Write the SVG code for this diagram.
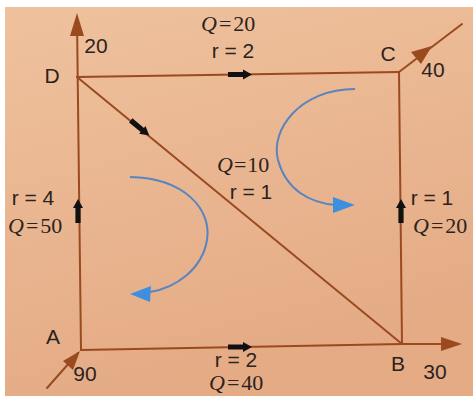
<svg xmlns="http://www.w3.org/2000/svg" width="473" height="396" viewBox="0 0 473 396">
<style>
.edge{stroke:#9b4a1f;stroke-width:2;fill:none;stroke-linecap:round}
.lbl{font-family:"Liberation Sans",Arial,sans-serif;font-size:21px;fill:#2b2320}
.q{font-family:"Liberation Serif","Times New Roman",serif;font-size:22px;fill:#2b2320}
.qi{font-style:italic}
.loop{stroke:#5a84bf;stroke-width:2;fill:none}
.flow{fill:#111}
.head{fill:#9b4a1f}
.bhead{fill:#3f8fe0}
</style>
<defs>
<linearGradient id="bg" x1="0" y1="0" x2="0.3" y2="1">
<stop offset="0" stop-color="#efc29e"/>
<stop offset="1" stop-color="#e4ab85"/>
</linearGradient>
<path id="fa" d="M-12,-2.6 L3,-2.6 L3,-5 L12,0 L3,5 L3,2.6 L-12,2.6 Z"/>
</defs>
<rect width="473" height="396" fill="url(#bg)"/>
<rect width="473" height="7" fill="#ffffff"/>
<rect width="5" height="396" fill="#ffffff"/>
<g id="connectors">
<line class="edge" x1="81" y1="350" x2="77" y2="20"/>
<polygon class="head" points="77,13 70,36 84,36"/>
<line class="edge" x1="77" y1="77" x2="399" y2="72"/>
<line class="edge" x1="77" y1="77" x2="402" y2="344"/>
<line class="edge" x1="399" y1="72" x2="402" y2="344"/>
<line class="edge" x1="81" y1="350" x2="402" y2="344"/>
<line class="edge" x1="399" y1="72" x2="462" y2="24"/>
<polygon class="head" points="432,46 411,52 421,64"/>
<line class="edge" x1="47" y1="388" x2="78" y2="353"/>
<polygon class="head" points="80,351 63,361 73,370"/>
<line class="edge" x1="402" y1="344" x2="455" y2="344"/>
<polygon class="head" points="462,344 441,337 441,351"/>
<use href="#fa" class="flow" transform="translate(240,74.5)"/>
<use href="#fa" class="flow" transform="translate(240,347)"/>
<use href="#fa" class="flow" transform="translate(140,128) rotate(39.4)"/>
<use href="#fa" class="flow" transform="translate(78,211) rotate(-90)"/>
<use href="#fa" class="flow" transform="translate(401,211) rotate(-90)"/>
<text class="q" x="201" y="31"><tspan class="qi">Q</tspan><tspan dx="2">=</tspan><tspan dx="2">20</tspan></text>
<text class="lbl" x="233" y="58" text-anchor="middle">r = 2</text>
<text class="q" x="217" y="172"><tspan class="qi">Q</tspan><tspan dx="1">=</tspan><tspan dx="1">10</tspan></text>
<text class="lbl" x="251" y="199" text-anchor="middle">r = 1</text>
<text class="lbl" x="33" y="205" text-anchor="middle">r = 4</text>
<text class="q" x="8" y="233"><tspan class="qi">Q</tspan><tspan dx="2">=</tspan><tspan dx="2">50</tspan></text>
<text class="lbl" x="432" y="205" text-anchor="middle">r = 1</text>
<text class="q" x="413" y="233"><tspan class="qi">Q</tspan><tspan dx="2">=</tspan><tspan dx="2">20</tspan></text>
<text class="lbl" x="236" y="367" text-anchor="middle" font-size="19">r = 2</text>
<text class="q" x="209" y="390" font-size="19"><tspan class="qi">Q</tspan><tspan dx="2">=</tspan><tspan dx="2">40</tspan></text>
</g>
<g id="loops">
<path class="loop" d="M355,89 C300,89 270,130 278,160 C286,190 310,203 336,205"/>
<polygon class="bhead" points="355,205 333,197 333,213"/>
<path class="loop" d="M130,177 C185,178 212,210 207,240 C202,270 175,288 150,292"/>
<polygon class="bhead" points="130,294 151,286 150,302"/>
</g>
<g id="node-D"><text class="lbl" x="52" y="83" text-anchor="middle">D</text><text class="lbl" x="96" y="53" text-anchor="middle">20</text></g>
<g id="node-C"><text class="lbl" x="388" y="61" text-anchor="middle">C</text><text class="lbl" x="433" y="77" text-anchor="middle">40</text></g>
<g id="node-A"><text class="lbl" x="53" y="344" text-anchor="middle">A</text><text class="lbl" x="85" y="381" text-anchor="middle">90</text></g>
<g id="node-B"><text class="lbl" x="398" y="371" text-anchor="middle">B</text><text class="lbl" x="435" y="379" text-anchor="middle">30</text></g>
</svg>
